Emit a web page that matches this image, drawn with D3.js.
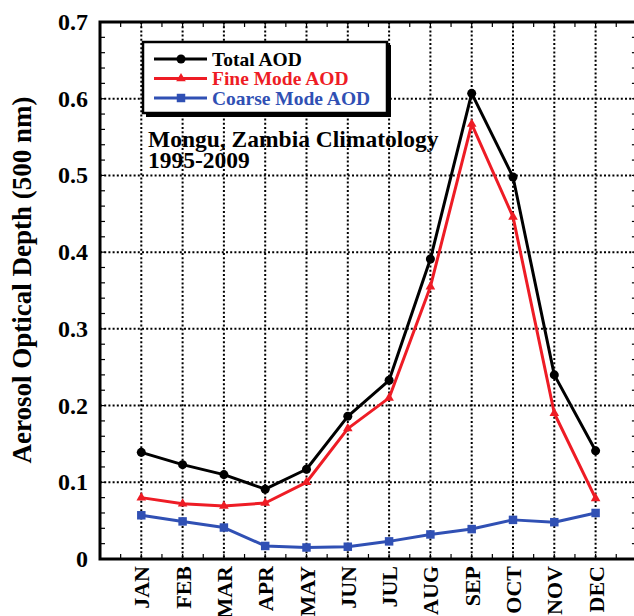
<!DOCTYPE html>
<html>
<head>
<meta charset="utf-8">
<script src="https://cdn.jsdelivr.net/npm/d3@7"></script>
<style>
  html, body { margin: 0; padding: 0; background: #fff; }
  svg { display: block; }
  text { font-family: "Liberation Serif", "Times New Roman", serif; font-weight: bold; }
</style>
</head>
<body>
<svg id="chart" width="634" height="616"></svg>
<script>
// Monthly climatology of aerosol optical depth at 500 nm, Mongu, Zambia (1995-2009)
const months = ["JAN", "FEB", "MAR", "APR", "MAY", "JUN", "JUL", "AUG", "SEP", "OCT", "NOV", "DEC"];
const totalAOD  = [0.139, 0.123, 0.110, 0.091, 0.117, 0.186, 0.233, 0.391, 0.607, 0.498, 0.240, 0.141];
const fineAOD   = [0.080, 0.072, 0.069, 0.073, 0.100, 0.170, 0.210, 0.355, 0.567, 0.446, 0.190, 0.079];
const coarseAOD = [0.057, 0.049, 0.041, 0.017, 0.015, 0.016, 0.023, 0.032, 0.039, 0.051, 0.048, 0.060];
const yTicks = [0, 0.1, 0.2, 0.3, 0.4, 0.5, 0.6, 0.7];
const seriesNames = ["Total AOD", "Fine Mode AOD", "Coarse Mode AOD"];
const titleLines = ["Mongu, Zambia Climatology", "1995-2009"];
const yTitle = "Aerosol Optical Depth (500 nm)";

const svg = d3.select("#chart");
const plotLeft = 100, plotTop = 22, plotBottom = 559, step = 41.3;
const plotRight = plotLeft + step * 13;

const x = d3.scaleLinear().domain([0, 13]).range([plotLeft, plotRight]);
const y = d3.scaleLinear().domain([0, 0.7]).range([plotBottom, plotTop]);

// dotted grid
const grid = svg.append("g").attr("stroke", "#000").attr("stroke-width", 2)
  .attr("stroke-dasharray", "2,2.2");
grid.selectAll("line.v").data(months).join("line").attr("class", "v")
  .attr("x1", (d, i) => x(i + 1)).attr("x2", (d, i) => x(i + 1))
  .attr("y1", plotTop).attr("y2", plotBottom);
grid.selectAll("line.h").data(yTicks.slice(1, -1)).join("line").attr("class", "h")
  .attr("x1", plotLeft).attr("x2", plotRight)
  .attr("y1", d => y(d)).attr("y2", d => y(d));

// inward tick marks on all four sides
const tk = svg.append("g").attr("stroke", "#000").attr("stroke-width", 1.2);
d3.range(0, 0.7001, 0.02).forEach(v => {
  tk.append("line").attr("x1", plotLeft).attr("x2", plotLeft + 5).attr("y1", y(v)).attr("y2", y(v));
  tk.append("line").attr("x1", plotRight).attr("x2", plotRight - 5).attr("y1", y(v)).attr("y2", y(v));
});
d3.range(0.5, 13, 0.5).forEach(v => {
  tk.append("line").attr("x1", x(v)).attr("x2", x(v)).attr("y1", plotBottom).attr("y2", plotBottom - 5);
  tk.append("line").attr("x1", x(v)).attr("x2", x(v)).attr("y1", plotTop).attr("y2", plotTop + 5);
});

// frame
svg.append("rect").attr("x", plotLeft).attr("y", plotTop)
  .attr("width", plotRight - plotLeft).attr("height", plotBottom - plotTop)
  .attr("fill", "none").attr("stroke", "#000").attr("stroke-width", 3);

// y tick labels
svg.append("g").selectAll("text").data(yTicks).join("text")
  .attr("x", 88).attr("y", d => y(d) + 8)
  .attr("text-anchor", "end").attr("font-size", 24)
  .text(d => d === 0 ? "0" : d3.format(".1f")(d));

// month labels
svg.append("g").selectAll("text").data(months).join("text")
  .attr("transform", (d, i) => `translate(${x(i + 1) + 8},566) rotate(-90)`)
  .attr("text-anchor", "end").attr("font-size", 22)
  .text(d => d);

// y axis title
svg.append("text")
  .attr("transform", "translate(31,280) rotate(-90)")
  .attr("text-anchor", "middle").attr("font-size", 27)
  .text(yTitle);

// series
const series = [
  { name: seriesNames[0], values: totalAOD, color: "#000000", marker: "circle" },
  { name: seriesNames[1], values: fineAOD, color: "#ee1c25", marker: "triangle" },
  { name: seriesNames[2], values: coarseAOD, color: "#3050b4", marker: "square" }
];
const line = d3.line().x((d, i) => x(i + 1)).y(d => y(d));
const sym = {
  circle: d3.symbol(d3.symbolCircle, 64),
  triangle: d3.symbol(d3.symbolTriangle, 40),
  square: d3.symbol(d3.symbolSquare, 72)
};
// coarse first, then fine, then total on top
[series[2], series[1], series[0]].forEach(s => {
  const g = svg.append("g");
  g.append("path").datum(s.values).attr("d", line)
    .attr("fill", "none").attr("stroke", s.color).attr("stroke-width", 3)
    .attr("stroke-linejoin", "round");
  g.selectAll("path.m").data(s.values).join("path").attr("class", "m")
    .attr("transform", (d, i) => `translate(${x(i + 1)},${y(d)})`)
    .attr("d", sym[s.marker]()).attr("fill", s.color);
});

// legend box with drop shadow
const lg = svg.append("g");
lg.append("rect").attr("x", 146).attr("y", 45).attr("width", 245).attr("height", 72).attr("fill", "#000");
lg.append("rect").attr("x", 143).attr("y", 42).attr("width", 244).attr("height", 71)
  .attr("fill", "#fff").attr("stroke", "#000").attr("stroke-width", 2.5);
series.forEach((s, i) => {
  const ry = 59 + i * 19.5;
  lg.append("line").attr("x1", 154).attr("x2", 207).attr("y1", ry).attr("y2", ry)
    .attr("stroke", s.color).attr("stroke-width", 3);
  lg.append("path").attr("transform", `translate(181,${ry})`).attr("d", sym[s.marker]()).attr("fill", s.color);
  lg.append("text").attr("x", 212).attr("y", ry + 6.5).attr("font-size", 19.5)
    .attr("fill", s.color).text(s.name);
});

// station title
titleLines.forEach((t, i) => {
  svg.append("text").attr("x", 148).attr("y", 147 + i * 21).attr("font-size", 23.5).text(t);
});
</script>
</body>
</html>
